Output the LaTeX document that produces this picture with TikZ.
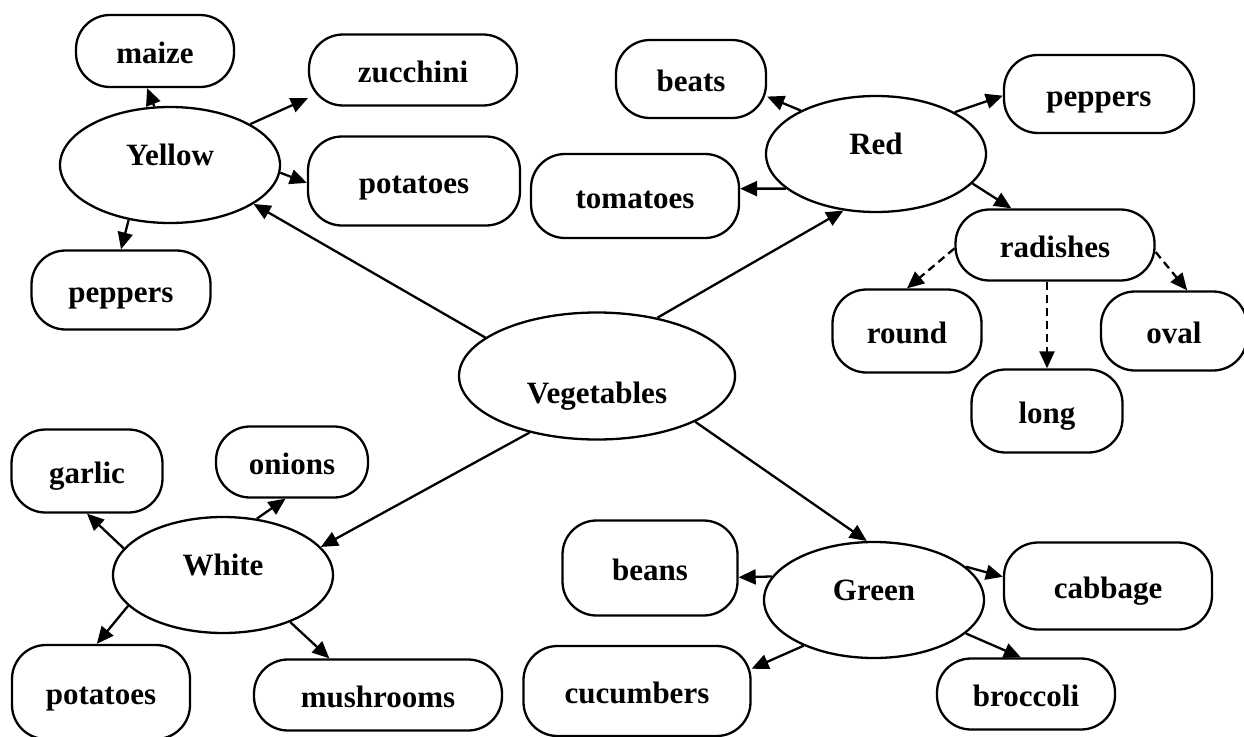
\documentclass[tikz,border=0pt]{standalone}
\usepackage{fontspec}
\setmainfont{Liberation Serif}
\usetikzlibrary{shapes.geometric, arrows.meta}
\tikzstyle{arrow} = [line width=2.3pt,-{Triangle[length=17pt,width=15pt]}]
\tikzstyle{dasharrow} = [arrow, dash pattern=on 8pt off 5pt]
\tikzstyle{topic} = [ellipse, minimum width=220pt, minimum height=116pt, inner sep=0pt, text centered, text height=12pt, text depth=12pt, draw=black, line width=2.3pt, font=\fontsize{31}{36}\selectfont\bfseries]
\tikzstyle{leaf} = [rectangle, rounded corners=34pt, minimum width=150pt, minimum height=78pt, inner sep=0pt, text centered, text height=24pt, text depth=0pt, draw=black, line width=2.3pt, font=\fontsize{31}{36}\selectfont\bfseries]
\begin{document}
\begin{tikzpicture}[x=1pt, y=-1pt]
\useasboundingbox (0,0) rectangle (1244,736);
\node (veg) [topic, minimum width=276pt, minimum height=127pt, text height=54pt, text depth=0pt] at (597,376) {Vegetables};
\node (yel) [topic] at (170,165) {Yellow};
\node (red) [topic] at (876,154) {Red};
\node (wh) [topic] at (223,575) {White};
\node (gr) [topic] at (874,600) {Green};
\node (maize) [leaf, minimum width=158pt, minimum height=72pt] at (155,51) {maize};
\node (zuc) [leaf, minimum width=208pt, minimum height=71pt] at (413,70) {zucchini};
\node (ypot) [leaf, minimum width=212pt, minimum height=89pt] at (414,181) {potatoes};
\node (ypep) [leaf, minimum width=179pt, minimum height=79pt] at (121,290) {peppers};
\node (beats) [leaf] at (691,79) {beats};
\node (rpep) [leaf, minimum width=190pt] at (1099,94) {peppers};
\node (tom) [leaf, minimum width=208pt, minimum height=84pt] at (635,196) {tomatoes};
\node (rad) [leaf, minimum width=199pt, minimum height=71pt] at (1055,245) {radishes};
\node (rnd) [leaf, minimum width=149pt, minimum height=83pt] at (907,331) {round};
\node (ov) [leaf, minimum width=146pt, minimum height=79pt] at (1174,331) {oval};
\node (lng) [leaf, minimum width=151pt, minimum height=83pt] at (1047,411) {long};
\node (garl) [leaf, minimum width=151pt, minimum height=83pt] at (87,471) {garlic};
\node (on) [leaf, minimum width=152pt, minimum height=71pt] at (292,462) {onions};
\node (wpot) [leaf, minimum width=178pt, minimum height=94pt] at (101,692) {potatoes};
\node (mush) [leaf, minimum width=248pt, minimum height=71pt] at (378,695) {mushrooms};
\node (bea) [leaf, minimum width=175pt, minimum height=95pt] at (650,568) {beans};
\node (cab) [leaf, minimum width=208pt, minimum height=87pt] at (1108,586) {cabbage};
\node (cuc) [leaf, minimum width=227pt, minimum height=90pt] at (637,691) {cucumbers};
\node (bro) [leaf, minimum width=178pt, minimum height=71pt] at (1026,694) {broccoli};
\draw [arrow] (veg.161) -- (yel.335);
\draw [arrow] (veg.44) -- (red.240);
\draw [arrow] (veg.220) -- (wh.16);
\draw [arrow] (veg.335) -- (gr.97);
\draw [arrow] (yel.105) -- (maize.258);
\draw [arrow] (yel.27) -- (zuc.195);
\draw [arrow] (yel.356) -- (ypot.181);
\draw [arrow] (yel.233) -- (ypep.north);
\draw [arrow] (red.150) -- (beats.347);
\draw [arrow] (red.28) -- (rpep.181);
\draw [arrow] (red.201) -- (tom.4);
\draw [arrow] (red.343) -- (rad.140);
\draw [dasharrow] (rad.182) -- (rnd.north);
\draw [dasharrow] (rad.south -| lng) -- (lng.north);
\draw [dasharrow] (rad.356) -- (ov.72);
\draw [arrow] (wh.165) -- (garl.south);
\draw [arrow] (wh.59) -- (on.260);
\draw [arrow] (wh.198) -- (wpot.95);
\draw [arrow] (wh.325) -- (mush.143);
\draw [arrow] (gr.167) -- (bea.354);
\draw [arrow] (gr.20) -- (cab.175);
\draw [arrow] (gr.213) -- (cuc.11);
\draw [arrow] (gr.340) -- (bro.98);
\end{tikzpicture}
\end{document}
